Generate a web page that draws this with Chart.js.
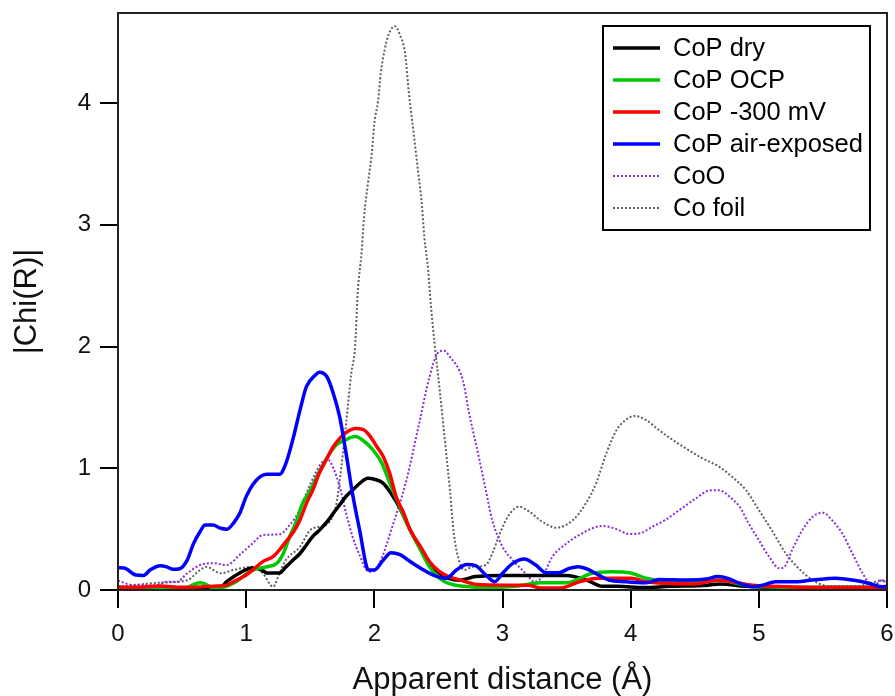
<!DOCTYPE html>
<html>
<head>
<meta charset="utf-8">
<script src="https://cdn.jsdelivr.net/npm/chart.js@4"></script>
<style>
html,body{margin:0;padding:0;background:#fff;}
#c{display:block;}
</style>
</head>
<body>
<canvas id="c" width="895" height="696"></canvas>
<script>
// ---------- data ----------
const seriesNames = ["CoP dry", "CoP OCP", "CoP -300 mV", "CoP air-exposed", "CoO", "Co foil"];

const xDry = [0,0.2,0.4,0.6,0.8,0.85,0.95,1.05,1.13,1.16,1.26,1.31,1.37,1.42,1.47,1.52,1.57,1.63,1.68,1.73,1.78,1.83,1.89,1.95,2.0,2.07,2.13,2.2,2.28,2.36,2.43,2.51,2.58,2.66,2.79,3.0,3.2,3.5,3.66,3.78,3.9,4.1,4.3,4.6,4.7,4.9,5.2,5.6,6.0];
const yDry = [0.01,0.01,0.02,0.01,0.02,0.07,0.14,0.18,0.16,0.14,0.14,0.19,0.25,0.30,0.37,0.44,0.49,0.56,0.63,0.70,0.77,0.82,0.88,0.917,0.91,0.876,0.794,0.671,0.493,0.34,0.219,0.137,0.096,0.08,0.11,0.12,0.12,0.12,0.08,0.03,0.03,0.02,0.03,0.04,0.05,0.03,0.02,0.02,0.02];

const xOcp = [0,0.1,0.3,0.5,0.64,0.77,0.9,1.05,1.16,1.24,1.29,1.34,1.39,1.44,1.5,1.55,1.6,1.65,1.7,1.77,1.85,1.91,1.99,2.06,2.12,2.2,2.28,2.36,2.43,2.51,2.58,2.7,2.9,3.1,3.3,3.5,3.7,3.85,4.0,4.12,4.27,4.5,4.7,4.85,5.0,5.4,6.0];
const yOcp = [0.03,0.01,0.01,0.01,0.06,0.01,0.055,0.164,0.19,0.22,0.30,0.44,0.56,0.71,0.82,0.93,1.03,1.12,1.19,1.23,1.26,1.23,1.15,1.04,0.88,0.68,0.49,0.33,0.19,0.096,0.055,0.03,0.02,0.03,0.06,0.06,0.137,0.15,0.14,0.096,0.068,0.06,0.08,0.05,0.03,0.02,0.02];

const xNeg = [0,0.12,0.33,0.5,0.77,0.85,0.9,0.98,1.05,1.13,1.21,1.26,1.31,1.37,1.42,1.47,1.52,1.57,1.63,1.68,1.73,1.8,1.85,1.91,1.96,2.02,2.07,2.12,2.17,2.23,2.28,2.36,2.43,2.51,2.58,2.66,2.8,3.0,3.2,3.3,3.45,3.6,3.75,4.0,4.12,4.27,4.5,4.68,4.95,5.1,5.5,6.0];
const yNeg = [0.022,0.022,0.033,0.022,0.033,0.04,0.068,0.11,0.164,0.233,0.274,0.329,0.397,0.479,0.575,0.712,0.82,0.958,1.08,1.177,1.246,1.308,1.327,1.32,1.273,1.177,1.095,0.958,0.767,0.63,0.493,0.356,0.233,0.15,0.11,0.085,0.045,0.04,0.04,0.016,0.016,0.068,0.096,0.096,0.068,0.055,0.05,0.08,0.04,0.03,0.02,0.02];

const xAir = [0,0.05,0.14,0.2,0.25,0.33,0.38,0.43,0.48,0.54,0.59,0.64,0.68,0.74,0.8,0.85,0.9,0.95,1.0,1.05,1.11,1.16,1.26,1.31,1.37,1.42,1.47,1.54,1.57,1.63,1.68,1.73,1.78,1.83,1.89,1.94,1.96,2.0,2.07,2.13,2.2,2.3,2.46,2.56,2.64,2.72,2.79,2.87,2.94,3.0,3.08,3.17,3.26,3.34,3.44,3.52,3.59,3.68,3.75,3.83,3.96,4.12,4.22,4.46,4.59,4.68,4.76,4.85,4.95,5.03,5.13,5.29,5.42,5.6,5.73,5.86,5.96,6.0];
const yAir = [0.183,0.18,0.123,0.12,0.164,0.2,0.19,0.17,0.175,0.246,0.383,0.479,0.534,0.534,0.507,0.5,0.548,0.63,0.767,0.863,0.931,0.95,0.95,1.04,1.26,1.478,1.67,1.766,1.788,1.752,1.615,1.42,1.12,0.79,0.466,0.19,0.164,0.164,0.246,0.307,0.29,0.219,0.123,0.096,0.164,0.21,0.2,0.123,0.068,0.137,0.219,0.255,0.205,0.142,0.142,0.178,0.192,0.164,0.123,0.082,0.068,0.06,0.087,0.082,0.09,0.11,0.096,0.055,0.027,0.04,0.068,0.068,0.082,0.096,0.082,0.055,0.027,0.03];

const xCoO = [0,0.12,0.3,0.38,0.46,0.54,0.64,0.74,0.85,0.95,1.05,1.13,1.26,1.34,1.42,1.47,1.54,1.59,1.64,1.68,1.73,1.78,1.83,1.89,1.94,1.98,2.04,2.14,2.25,2.35,2.43,2.49,2.54,2.59,2.69,2.74,2.82,2.87,2.92,3.0,3.08,3.18,3.25,3.31,3.39,3.5,3.6,3.7,3.78,3.89,3.99,4.07,4.17,4.27,4.38,4.51,4.61,4.69,4.77,4.85,4.92,5.0,5.08,5.16,5.2,5.26,5.34,5.42,5.5,5.57,5.65,5.73,5.81,5.89,5.96,6.0];
const yCoO = [0.077,0.04,0.04,0.068,0.068,0.137,0.205,0.22,0.205,0.29,0.383,0.452,0.458,0.534,0.66,0.794,0.958,1.046,1.068,1.0,0.849,0.63,0.438,0.274,0.164,0.15,0.22,0.52,0.9,1.37,1.75,1.94,1.966,1.916,1.725,1.45,1.07,0.82,0.575,0.356,0.246,0.137,0.068,0.11,0.274,0.383,0.452,0.507,0.526,0.5,0.46,0.465,0.52,0.575,0.657,0.753,0.816,0.82,0.767,0.684,0.548,0.41,0.274,0.178,0.19,0.329,0.493,0.602,0.635,0.575,0.466,0.301,0.137,0.027,0.08,0.05];

const xFoil = [0,0.33,0.54,0.64,0.69,0.8,0.9,1.05,1.13,1.21,1.26,1.31,1.42,1.5,1.57,1.65,1.7,1.73,1.78,1.82,1.85,1.87,1.9,1.92,1.95,1.98,2.0,2.03,2.05,2.08,2.11,2.16,2.2,2.24,2.27,2.31,2.34,2.37,2.39,2.42,2.44,2.47,2.51,2.55,2.59,2.62,2.66,2.7,2.77,2.87,2.92,2.98,3.05,3.13,3.21,3.31,3.42,3.55,3.65,3.73,3.81,3.89,3.96,4.03,4.12,4.22,4.33,4.43,4.56,4.69,4.79,4.9,5.0,5.1,5.21,5.31,5.42,5.55,5.73,5.86,5.96,6.0];
const yFoil = [0.027,0.06,0.08,0.164,0.19,0.137,0.164,0.19,0.137,0.027,0.137,0.246,0.356,0.493,0.52,0.56,0.685,0.9,1.37,1.78,2.0,2.437,2.766,3.066,3.34,3.587,3.833,4.025,4.244,4.435,4.559,4.632,4.559,4.408,4.08,3.724,3.45,3.176,2.902,2.628,2.355,2.026,1.643,1.232,0.82,0.466,0.246,0.164,0.19,0.205,0.3,0.466,0.616,0.684,0.643,0.561,0.512,0.575,0.712,0.876,1.123,1.314,1.396,1.43,1.396,1.314,1.232,1.164,1.082,1.013,0.931,0.82,0.657,0.493,0.301,0.178,0.082,0.03,0.03,0.05,0.08,0.07];

const xTicks = [0,1,2,3,4,5,6];
const yTicks = [0,1,2,3,4];

// ---------- styles ----------
const styles = [
  {color:'#000000', width:3.5, dash:[], order:3},
  {color:'#00c800', width:3.5, dash:[], order:2},
  {color:'#ff0000', width:3.5, dash:[], order:1},
  {color:'#0000ff', width:3.5, dash:[], order:0},
  {color:'#8a2be2', width:2, dash:[2,2], order:4},
  {color:'#606060', width:2, dash:[2,2], order:5}
];
const xs = [xDry, xOcp, xNeg, xAir, xCoO, xFoil];
const ys = [yDry, yOcp, yNeg, yAir, yCoO, yFoil];

const datasets = seriesNames.map((name, i) => ({
  label: name,
  data: xs[i].map((x, j) => ({x: x, y: ys[i][j]})),
  borderColor: styles[i].color,
  borderWidth: styles[i].width,
  borderDash: styles[i].dash,
  order: styles[i].order,
  pointRadius: 0,
  fill: false,
  cubicInterpolationMode: 'monotone'
}));

const FONT = "'Liberation Sans', Arial, sans-serif";

const framePlugin = {
  id: 'frame',
  afterDatasetsDraw(chart) {
    const a = chart.chartArea, c = chart.ctx;
    c.save();
    c.strokeStyle = '#222';
    c.lineWidth = 2;
    c.strokeRect(a.left, a.top, a.right - a.left, a.bottom - a.top);
    c.restore();
  }
};

const legendPlugin = {
  id: 'boxLegend',
  afterDraw(chart) {
    const c = chart.ctx;
    const bx = 603, by = 26, bw = 267, bh = 204;
    c.save();
    c.fillStyle = '#fff';
    c.fillRect(bx, by, bw, bh);
    c.strokeStyle = '#000';
    c.lineWidth = 2;
    c.strokeRect(bx, by, bw, bh);
    c.font = "25.5px " + FONT;
    c.textBaseline = 'middle';
    c.textAlign = 'left';
    chart.data.datasets.forEach((d, i) => {
      const yy = 48 + i * 32;
      c.beginPath();
      c.strokeStyle = d.borderColor;
      c.lineWidth = d.borderWidth;
      c.setLineDash(d.borderDash || []);
      c.moveTo(613, yy);
      c.lineTo(660, yy);
      c.stroke();
      c.setLineDash([]);
      c.fillStyle = '#000';
      c.fillText(d.label, 673, yy + 1);
    });
    c.restore();
  }
};

new Chart(document.getElementById('c'), {
  type: 'line',
  data: {datasets: datasets},
  options: {
    responsive: false,
    animation: false,
    devicePixelRatio: 1,
    layout: {padding: {top: 13, right: 8, left: 0, bottom: 0}},
    plugins: {legend: {display: false}, tooltip: {enabled: false}},
    scales: {
      x: {
        type: 'linear', min: 0, max: 6,
        afterBuildTicks: s => { s.ticks = xTicks.map(v => ({value: v})); },
        afterFit: s => { s.height = 106; s.paddingLeft = 0; s.paddingRight = 0; },
        ticks: {font: {family: FONT, size: 24}, color: '#111', padding: 12, maxRotation: 0, autoSkip: false},
        grid: {drawOnChartArea: false, drawTicks: true, tickLength: 18, color: '#000', lineWidth: 2},
        border: {display: true, color: '#000', width: 2},
        title: {display: true, text: 'Apparent distance (Å)', font: {family: FONT, size: 31}, color: '#111', padding: {top: 0, bottom: -3}}
      },
      y: {
        type: 'linear', min: 0, max: 4.74,
        afterBuildTicks: s => { s.ticks = yTicks.map(v => ({value: v})); },
        afterFit: s => { s.width = 118; s.paddingTop = 0; s.paddingBottom = 0; },
        ticks: {font: {family: FONT, size: 24}, color: '#111', padding: 9, autoSkip: false},
        grid: {drawOnChartArea: false, drawTicks: true, tickLength: 18, color: '#000', lineWidth: 2},
        border: {display: true, color: '#000', width: 2},
        title: {display: true, text: '|Chi(R)|', font: {family: FONT, size: 31}, color: '#111', padding: {top: 9, bottom: 0}}
      }
    }
  },
  plugins: [framePlugin, legendPlugin]
});
</script>
</body>
</html>
